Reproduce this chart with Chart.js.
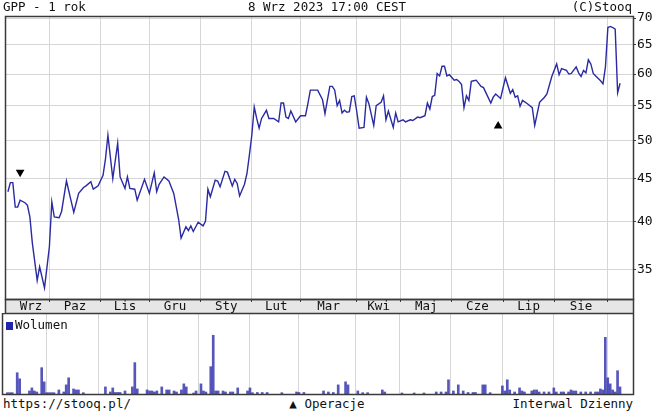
<!DOCTYPE html>
<html>
<head>
<meta charset="utf-8">
<script src="https://cdn.jsdelivr.net/npm/chart.js@4.4.0/dist/chart.umd.min.js"></script>
<style>
    body { margin: 0; background: #fff; }
    #wrap { position: relative; width: 654px; height: 414px; overflow: hidden; font-family: "DejaVu Sans Mono", monospace; font-size: 12.5px; color: #111; }
    .txt { position: absolute; white-space: nowrap; line-height: 14px; }
    #cPrice { position: absolute; left: 0; top: 0; }
    #cVol { position: absolute; left: 0; top: 313px; }
    .sq { display: inline-block; width: 7px; height: 8px; background: #2323b0; margin-right: 2px; vertical-align: -1px; }
</style>
</head>
<body>
<div id="wrap">
    <canvas id="cPrice" width="654" height="313"></canvas>
    <canvas id="cVol" width="654" height="83"></canvas>
    <div class="txt" style="left:3px; top:0px;">GPP - 1 rok</div>
    <div class="txt" style="left:0; width:654px; text-align:center; top:0px;">8 Wrz 2023 17:00 CEST</div>
    <div class="txt" style="right:22px; top:0px;">(C)Stooq</div>
    <div class="txt" style="left:6px; top:318px;"><span class="sq"></span>Wolumen</div>
    <div class="txt" style="left:3px; top:397px;">https://stooq.pl/</div>
    <div class="txt" style="left:0; width:654px; text-align:center; top:397px;">▲ Operacje</div>
    <div class="txt" style="right:21px; top:397px;">Interwal Dzienny</div>
</div>
<script>
// Dane - indeks dnia sesyjnego (0 = 8 Wrz 2022)
const days = [0, 1, 2, 3, 4, 5, 7, 8, 9, 10, 12, 13, 15, 17, 18, 19, 21, 22, 24, 26, 27, 29, 31, 32, 34, 35, 37, 39,
    40, 41, 43, 45, 46, 48, 49, 50, 52, 53, 56, 58, 60, 61, 62, 64, 66, 68, 70, 71, 73, 74, 75, 76, 78, 80, 81,
    82, 83, 85, 86, 87, 89, 90, 92, 93, 94, 95, 97, 98, 99, 100, 101, 102, 103, 104, 106, 107, 109, 111, 112, 113,
    114, 115, 116, 118, 120, 122, 123, 124, 127, 129, 130, 132, 133, 134, 135, 136, 137, 138, 139, 140, 141, 142,
    143, 144, 146, 147, 148, 150, 151, 153, 154, 155, 156, 158, 159, 160, 162, 163, 165, 166, 168, 169, 171, 172,
    173, 174, 175, 176, 177, 178, 179, 180, 181, 183, 184, 185, 186, 187, 188, 189, 190, 191, 192, 194, 195, 198,
    199, 200, 202, 204, 206, 207, 208, 209, 210, 211, 213, 215, 216, 218, 220, 221, 223, 225, 226, 227, 229, 230,
    231, 233, 234, 235, 236, 237, 238, 239, 240, 241, 243, 244, 245, 246, 247, 248, 249, 250, 251];
const closes = [43.4, 44.5, 44.5, 41.6, 41.6, 42.4, 42.1, 41.8, 40.5, 37.7, 34.0, 35.3, 33.3, 37.3, 42.2, 40.5, 40.4, 41.1, 44.7, 42.2, 41.0, 43.2, 43.9, 44.1, 44.6, 43.7, 44.1, 45.4,
    47.5, 50.7, 45.0, 49.6, 45.2, 43.8, 45.2, 43.8, 43.7, 42.4, 44.9, 43.2, 45.7, 43.4, 44.3, 45.2, 44.7, 43.2, 40.2, 38.2, 39.4, 39.0, 39.5, 38.9, 39.9, 39.5, 40.0,
    43.7, 42.8, 44.8, 44.7, 44.0, 45.9, 45.8, 44.1, 44.9, 44.4, 42.9, 44.3, 45.6, 48.0, 50.7, 54.8, 53.1, 51.7, 53.1, 54.3, 53.1, 53.1, 52.6, 55.4, 55.4,
    53.3, 53.1, 54.2, 52.6, 53.5, 53.5, 55.3, 57.4, 57.4, 55.9, 53.8, 58.0, 58.0, 57.4, 55.0, 55.8, 53.9, 54.3, 54.0, 54.1, 56.4, 56.5,
    54.2, 51.7, 51.8, 56.3, 55.3, 52.1, 55.0, 55.5, 56.5, 52.9, 54.2, 51.8, 53.9, 52.6, 52.9, 52.6, 52.9, 52.8, 53.3, 53.2, 53.5, 55.4,
    54.5, 56.4, 56.6, 60.1, 59.7, 61.3, 61.3, 59.7, 59.9, 59.0, 59.1, 58.8, 58.3, 54.7, 56.5, 55.8, 58.8, 58.9, 59.0, 58.0, 57.8, 55.4,
    56.3, 56.8, 56.1, 59.4, 56.9, 57.5, 56.3, 56.5, 54.9, 55.8, 55.3, 54.7, 52.1, 55.5, 56.3, 56.8, 59.6, 61.7, 59.9, 60.9, 60.6, 60.0,
    60.1, 61.2, 60.2, 59.6, 60.6, 60.2, 62.4, 61.7, 60.1, 59.7, 58.9, 58.4, 61.2, 68.2, 68.4, 68.2, 67.9, 57.0, 58.5];

// Wolumen (tys. szt.)
const volDays = [1, 2, 3, 5, 6, 10, 11, 12, 13, 15, 16, 17, 18, 19, 20, 22, 24, 25, 26, 28, 29, 30, 32, 41, 43, 44, 45, 46, 47, 49,
    52, 53, 54, 58, 59, 60, 61, 62, 64, 66, 67, 69, 70, 72, 73, 74, 77, 78, 80, 81, 82, 84, 85, 86, 87, 89, 90, 92, 93, 95,
    99, 100, 101, 103, 105, 107, 113, 119, 120, 122, 130, 132, 134, 136, 139, 140, 144, 146, 148, 154, 155, 162, 167, 171,
    176, 178, 180, 181, 183, 185, 187, 189, 191, 192, 195, 196, 198, 203, 204, 205, 206, 208, 210, 211, 212, 215, 216, 217,
    218, 220, 222, 224, 225, 227, 228, 230, 231, 232, 233, 235, 237, 239, 241, 242, 243, 244, 245, 246, 247, 248, 249, 250, 251];
const volumes = [13, 13, 13, 210, 150, 30, 60, 30, 20, 260, 120, 13, 13, 13, 13, 40, 20, 90, 160, 50, 40, 40, 13, 70, 20, 60, 15, 15, 15, 30,
    70, 310, 50, 40, 30, 30, 20, 30, 70, 40, 40, 30, 20, 40, 100, 70, 10, 30, 100, 30, 20, 270, 580, 30, 30, 30, 20, 20, 20, 60,
    30, 60, 13, 15, 15, 15, 13, 20, 15, 15, 30, 20, 15, 90, 120, 90, 30, 13, 13, 40, 20, 10, 10, 10,
    20, 20, 20, 140, 30, 90, 30, 15, 15, 15, 90, 90, 13, 80, 30, 140, 40, 20, 60, 30, 20, 30, 40, 40,
    20, 20, 20, 60, 20, 20, 20, 20, 40, 30, 30, 20, 20, 20, 20, 20, 50, 40, 560, 160, 100, 40, 20, 230, 70];

// Operacje (znaczniki)
const opDays = [5, 201];
const opLevels = [45.8, 52.0];
const opRotation = [180, 0];

// Osie
const monthLabels = ['Wrz', 'Paz', 'Lis', 'Gru', 'Sty', 'Lut', 'Mar', 'Kwi', 'Maj', 'Cze', 'Lip', 'Sie'];
const monthStarts = [17, 38, 58, 79, 100, 120, 143, 161, 182, 203, 224, 246];
const priceTicks = [35, 40, 45, 50, 55, 60, 65, 70];

const X_MIN = -1.2, X_MAX = 256.3;
const FONT = '"DejaVu Sans Mono", monospace';
const GRID = '#d6d6d6';
const FRAME = '#3a3a3a';

// pozycje etykiet miesiecy - srodek miedzy granicami
const labelPos = monthStarts.map((b, i) => ((i === 0 ? 2 : monthStarts[i - 1]) + b) / 2);

const framePlugin = {
    id: 'frame',
    beforeDraw(chart, args, opts) {
        const a = chart.chartArea;
        const ctx = chart.ctx;
        if (opts.band) {
            ctx.save();
            ctx.fillStyle = '#e6e6e6';
            ctx.fillRect(a.left, a.bottom, a.right - a.left, 14);
            ctx.restore();
        }
    },
    afterDraw(chart, args, opts) {
        const a = chart.chartArea;
        const ctx = chart.ctx;
        ctx.save();
        ctx.strokeStyle = FRAME;
        ctx.lineWidth = 1.5;
        ctx.strokeRect(a.left + 0.5, a.top + 0.5, a.right - a.left, a.bottom - a.top);
        if (opts.band) {
            ctx.strokeRect(a.left + 0.5, a.bottom + 0.5, a.right - a.left, 14);
        }
        ctx.restore();
    }
};

let priceChart, volChart;

document.addEventListener('DOMContentLoaded', () => {
    initPriceChart();
    initVolChart();
});

function initPriceChart() {
    const ctx = document.getElementById('cPrice').getContext('2d');
    priceChart = new Chart(ctx, {
        type: 'line',
        data: {
            datasets: [{
                data: days.map((d, i) => ({ x: d, y: closes[i] })),
                borderColor: '#2a2aa2',
                borderWidth: 1.4,
                pointRadius: 0,
                tension: 0,
                xAxisID: 'x',
                yAxisID: 'y'
            }, {
                type: 'scatter',
                data: opDays.map((d, i) => ({ x: d, y: opLevels[i] })),
                pointStyle: 'triangle',
                pointRotation: opRotation,
                pointRadius: 5,
                pointBackgroundColor: '#000',
                pointBorderWidth: 0,
                xAxisID: 'x',
                yAxisID: 'y'
            }]
        },
        options: {
            animation: false,
            responsive: false,
            layout: { padding: { left: 2, top: 16, right: 0, bottom: 0 } },
            plugins: {
                legend: { display: false },
                tooltip: { enabled: false },
                frame: { band: true }
            },
            scales: {
                x: {
                    type: 'linear',
                    position: 'bottom',
                    offset: false,
                    min: X_MIN, max: X_MAX,
                    afterBuildTicks: s => { s.ticks = monthStarts.map(v => ({ value: v })); },
                    afterFit: s => { s.height = 0; },
                    ticks: { display: false },
                    grid: { color: GRID, drawTicks: true, tickLength: 3, tickColor: FRAME },
                    border: { display: false }
                },
                xm: {
                    type: 'linear',
                    position: 'bottom',
                    offset: false,
                    min: X_MIN, max: X_MAX,
                    afterBuildTicks: s => { s.ticks = labelPos.map(v => ({ value: v })); },
                    afterFit: s => { s.height = 14; },
                    ticks: {
                        autoSkip: false,
                        maxRotation: 0,
                        padding: 0,
                        color: '#111',
                        font: { family: FONT, size: 12.5 },
                        callback: (v, i) => monthLabels[i]
                    },
                    grid: { display: false, drawTicks: false },
                    border: { display: false }
                },
                y: {
                    type: 'logarithmic',
                    position: 'right',
                    min: 32.3, max: 70.4,
                    afterBuildTicks: s => { s.ticks = priceTicks.map(v => ({ value: v })); },
                    afterFit: s => { s.width = 21; },
                    ticks: {
                        padding: 1,
                        color: '#111',
                        font: { family: FONT, size: 13 },
                        callback: v => String(v)
                    },
                    grid: { color: GRID, tickLength: 3, tickColor: FRAME },
                    border: { display: false }
                }
            }
        },
        plugins: [framePlugin]
    });
}

function initVolChart() {
    const ctx = document.getElementById('cVol').getContext('2d');
    volChart = new Chart(ctx, {
        type: 'bar',
        data: {
            datasets: [{
                data: volDays.map((d, i) => ({ x: d, y: volumes[i] })),
                backgroundColor: 'rgba(44,44,170,0.8)',
                barThickness: 2,
                borderWidth: 0
            }]
        },
        options: {
            animation: false,
            responsive: false,
            layout: { padding: { left: 2, top: 0, right: 21, bottom: 2 } },
            plugins: {
                legend: { display: false },
                tooltip: { enabled: false },
                frame: { band: false }
            },
            scales: {
                x: {
                    type: 'linear',
                    offset: false,
                    min: X_MIN, max: X_MAX,
                    afterBuildTicks: s => { s.ticks = monthStarts.map(v => ({ value: v })); },
                    afterFit: s => { s.height = 0; },
                    ticks: { display: false },
                    grid: { color: GRID, drawTicks: false, offset: false },
                    border: { display: false }
                },
                y: {
                    display: false,
                    min: 0, max: 800
                }
            }
        },
        plugins: [framePlugin]
    });
}
</script>
</body>
</html>
